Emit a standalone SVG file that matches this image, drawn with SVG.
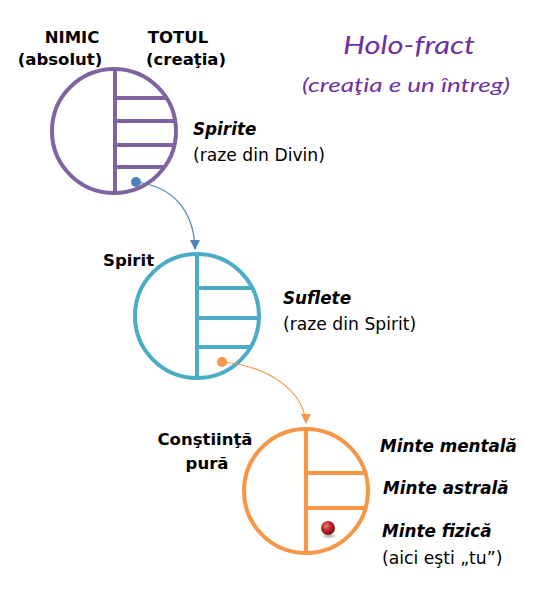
<svg xmlns="http://www.w3.org/2000/svg" width="536" height="608" viewBox="0 0 536 608">
<style>
  .t{font-family:"DejaVu Sans","Liberation Sans",sans-serif;fill:#000}
  .b{font-weight:bold;font-size:16.5px}
  .bi{font-weight:bold;font-style:italic;font-size:16.8px}
  .r{font-size:17.2px}
  .title{font-family:"Comic Sans MS","Lato","Open Sans",sans-serif;font-style:italic;fill:#7030A0}
  .purple{stroke:#8064A2;stroke-width:4;fill:none}
  .teal{stroke:#4BACC6;stroke-width:4;fill:none}
  .orange{stroke:#F79646;stroke-width:4;fill:none}
</style>
<defs>
  <marker id="arrBlue" markerWidth="10" markerHeight="10" refX="5" refY="9" markerUnits="userSpaceOnUse" viewBox="0 0 10 10">
    <path d="M0,0 L10,0 L5,10 Z" fill="#4F81BD"/>
  </marker>
  <marker id="arrOrange" markerWidth="10" markerHeight="10" refX="5" refY="9" markerUnits="userSpaceOnUse" viewBox="0 0 10 10">
    <path d="M0,0 L10,0 L5,10 Z" fill="#F79646"/>
  </marker>
  <radialGradient id="ball" cx="0.38" cy="0.35" r="0.7">
    <stop offset="0" stop-color="#F08080"/>
    <stop offset="0.45" stop-color="#C0272D"/>
    <stop offset="1" stop-color="#6E0E12"/>
  </radialGradient>
  <radialGradient id="shadow" cx="0.5" cy="0.5" r="0.5">
    <stop offset="0" stop-color="#000" stop-opacity="0.35"/>
    <stop offset="1" stop-color="#000" stop-opacity="0"/>
  </radialGradient>
</defs>
<rect width="536" height="608" fill="#fff"/>

<g id="title">
  <text class="title" x="409" y="54" font-size="26" text-anchor="middle" textLength="132" lengthAdjust="spacingAndGlyphs">Holo-fract</text>
  <text class="title" x="406" y="92" font-size="19" text-anchor="middle" textLength="208" lengthAdjust="spacingAndGlyphs">(creaţia e un întreg)</text>
</g>

<g id="node-divin">
  <circle class="purple" cx="114" cy="131" r="62"/>
  <line class="purple" x1="115" y1="69" x2="115" y2="193"/>
  <line class="purple" x1="115" y1="98" x2="166" y2="98"/>
  <line class="purple" x1="115" y1="121" x2="175" y2="121"/>
  <line class="purple" x1="115" y1="145" x2="174" y2="145"/>
  <line class="purple" x1="115" y1="167" x2="164" y2="167"/>
  <circle cx="136" cy="182" r="5" fill="#4F81BD"/>
  <text class="t b" x="72" y="43" text-anchor="middle">NIMIC</text>
  <text class="t b" x="60" y="65" text-anchor="middle">(absolut)</text>
  <text class="t b" x="178" y="43" text-anchor="middle">TOTUL</text>
  <text class="t b" x="186" y="65" text-anchor="middle">(creaţia)</text>
  <text class="t bi" x="193" y="135">Spirite</text>
  <text class="t r" x="193" y="161">(raze din Divin)</text>
</g>

<g id="node-spirit">
  <circle class="teal" cx="197" cy="316" r="62"/>
  <line class="teal" x1="197" y1="254" x2="197" y2="378"/>
  <line class="teal" x1="197" y1="288" x2="252" y2="288"/>
  <line class="teal" x1="197" y1="318" x2="259" y2="318"/>
  <line class="teal" x1="197" y1="347" x2="251" y2="347"/>
  <circle cx="222" cy="362" r="5" fill="#F79646"/>
  <text class="t b" x="103" y="266">Spirit</text>
  <text class="t bi" x="283" y="304">Suflete</text>
  <text class="t r" x="283" y="330">(raze din Spirit)</text>
</g>

<g id="node-constiinta">
  <circle class="orange" cx="306" cy="491" r="62"/>
  <line class="orange" x1="306" y1="429" x2="306" y2="553"/>
  <line class="orange" x1="306" y1="473" x2="365" y2="473"/>
  <line class="orange" x1="306" y1="508" x2="366" y2="508"/>
  <ellipse cx="329" cy="536" rx="8" ry="3" fill="url(#shadow)"/>
  <circle cx="328" cy="528" r="7" fill="url(#ball)"/>
  <text class="t b" x="205" y="445" text-anchor="middle">Conştiinţă</text>
  <text class="t b" x="207" y="469" text-anchor="middle">pură</text>
  <text class="t bi" x="380" y="452">Minte mentală</text>
  <text class="t bi" x="383" y="494">Minte astrală</text>
  <text class="t bi" x="382" y="537">Minte fizică</text>
  <text class="t r" x="382" y="564">(aici eşti „tu”)</text>
</g>

<g id="connectors" fill="none" stroke-width="1.2">
  <path d="M136,182 C172,186 194,210 195,249" stroke="#4F81BD" marker-end="url(#arrBlue)"/>
  <path d="M222,362 C268,366 303,390 306,423" stroke="#F79646" marker-end="url(#arrOrange)"/>
</g>
</svg>
